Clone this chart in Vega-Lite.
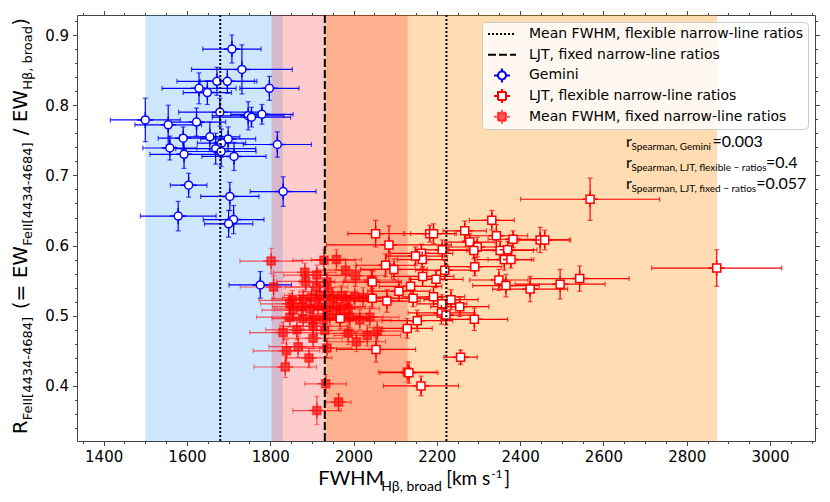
{
  "$schema": "https://vega.github.io/schema/vega-lite/v6.json",
  "description": "R_FeII versus FWHM of broad H-beta, Gemini and LJT samples",
  "width": 738,
  "height": 426,
  "autosize": {"type": "none"},
  "padding": {"left": 77, "top": 15, "right": 15, "bottom": 61},
  "background": "white",
  "datasets": {
    "bands": [
      {"region": "range 1", "lo": 1500, "hi": 1830},
      {"region": "range 2", "lo": 1933, "hi": 2873},
      {"region": "range 3", "lo": 1803, "hi": 2130}
    ],
    "lines": [
      {"series": "Mean FWHM, flexible narrow-line ratios", "fwhm": 1680},
      {"series": "Mean FWHM, flexible narrow-line ratios", "fwhm": 2223},
      {"series": "LJT, fixed narrow-line ratios", "fwhm": 1931}
    ],
    "points": [
      {"series": "Mean FWHM, fixed narrow-line ratios", "fwhm": 1802, "fwhm_err": 75, "ratio": 0.578, "ratio_err": 0.018},
      {"series": "Mean FWHM, fixed narrow-line ratios", "fwhm": 1929, "fwhm_err": 75, "ratio": 0.579, "ratio_err": 0.015},
      {"series": "Mean FWHM, fixed narrow-line ratios", "fwhm": 1959, "fwhm_err": 60, "ratio": 0.580, "ratio_err": 0.014},
      {"series": "Mean FWHM, fixed narrow-line ratios", "fwhm": 1981, "fwhm_err": 70, "ratio": 0.565, "ratio_err": 0.016},
      {"series": "Mean FWHM, fixed narrow-line ratios", "fwhm": 1883, "fwhm_err": 75, "ratio": 0.562, "ratio_err": 0.013},
      {"series": "Mean FWHM, fixed narrow-line ratios", "fwhm": 1912, "fwhm_err": 80, "ratio": 0.558, "ratio_err": 0.014},
      {"series": "Mean FWHM, fixed narrow-line ratios", "fwhm": 2005, "fwhm_err": 70, "ratio": 0.557, "ratio_err": 0.015},
      {"series": "Mean FWHM, fixed narrow-line ratios", "fwhm": 2043, "fwhm_err": 65, "ratio": 0.551, "ratio_err": 0.014},
      {"series": "Mean FWHM, fixed narrow-line ratios", "fwhm": 1808, "fwhm_err": 80, "ratio": 0.541, "ratio_err": 0.016},
      {"series": "Mean FWHM, fixed narrow-line ratios", "fwhm": 1885, "fwhm_err": 70, "ratio": 0.549, "ratio_err": 0.014},
      {"series": "Mean FWHM, fixed narrow-line ratios", "fwhm": 1911, "fwhm_err": 75, "ratio": 0.541, "ratio_err": 0.014},
      {"series": "Mean FWHM, fixed narrow-line ratios", "fwhm": 1936, "fwhm_err": 65, "ratio": 0.548, "ratio_err": 0.013},
      {"series": "Mean FWHM, fixed narrow-line ratios", "fwhm": 1847, "fwhm_err": 70, "ratio": 0.517, "ratio_err": 0.015},
      {"series": "Mean FWHM, fixed narrow-line ratios", "fwhm": 1853, "fwhm_err": 80, "ratio": 0.522, "ratio_err": 0.014},
      {"series": "Mean FWHM, fixed narrow-line ratios", "fwhm": 1879, "fwhm_err": 75, "ratio": 0.524, "ratio_err": 0.013},
      {"series": "Mean FWHM, fixed narrow-line ratios", "fwhm": 1899, "fwhm_err": 70, "ratio": 0.526, "ratio_err": 0.015},
      {"series": "Mean FWHM, fixed narrow-line ratios", "fwhm": 1919, "fwhm_err": 85, "ratio": 0.529, "ratio_err": 0.014},
      {"series": "Mean FWHM, fixed narrow-line ratios", "fwhm": 1939, "fwhm_err": 70, "ratio": 0.534, "ratio_err": 0.013},
      {"series": "Mean FWHM, fixed narrow-line ratios", "fwhm": 1951, "fwhm_err": 80, "ratio": 0.525, "ratio_err": 0.015},
      {"series": "Mean FWHM, fixed narrow-line ratios", "fwhm": 1971, "fwhm_err": 75, "ratio": 0.529, "ratio_err": 0.014},
      {"series": "Mean FWHM, fixed narrow-line ratios", "fwhm": 1983, "fwhm_err": 70, "ratio": 0.522, "ratio_err": 0.013},
      {"series": "Mean FWHM, fixed narrow-line ratios", "fwhm": 2003, "fwhm_err": 80, "ratio": 0.527, "ratio_err": 0.015},
      {"series": "Mean FWHM, fixed narrow-line ratios", "fwhm": 2023, "fwhm_err": 65, "ratio": 0.526, "ratio_err": 0.014},
      {"series": "Mean FWHM, fixed narrow-line ratios", "fwhm": 1855, "fwhm_err": 75, "ratio": 0.508, "ratio_err": 0.014},
      {"series": "Mean FWHM, fixed narrow-line ratios", "fwhm": 1875, "fwhm_err": 70, "ratio": 0.513, "ratio_err": 0.015},
      {"series": "Mean FWHM, fixed narrow-line ratios", "fwhm": 1895, "fwhm_err": 85, "ratio": 0.510, "ratio_err": 0.013},
      {"series": "Mean FWHM, fixed narrow-line ratios", "fwhm": 1915, "fwhm_err": 75, "ratio": 0.514, "ratio_err": 0.014},
      {"series": "Mean FWHM, fixed narrow-line ratios", "fwhm": 1936, "fwhm_err": 80, "ratio": 0.512, "ratio_err": 0.015},
      {"series": "Mean FWHM, fixed narrow-line ratios", "fwhm": 1959, "fwhm_err": 70, "ratio": 0.513, "ratio_err": 0.014},
      {"series": "Mean FWHM, fixed narrow-line ratios", "fwhm": 1987, "fwhm_err": 75, "ratio": 0.510, "ratio_err": 0.015},
      {"series": "Mean FWHM, fixed narrow-line ratios", "fwhm": 1847, "fwhm_err": 80, "ratio": 0.498, "ratio_err": 0.014},
      {"series": "Mean FWHM, fixed narrow-line ratios", "fwhm": 1879, "fwhm_err": 75, "ratio": 0.496, "ratio_err": 0.015},
      {"series": "Mean FWHM, fixed narrow-line ratios", "fwhm": 1903, "fwhm_err": 70, "ratio": 0.494, "ratio_err": 0.013},
      {"series": "Mean FWHM, fixed narrow-line ratios", "fwhm": 1927, "fwhm_err": 85, "ratio": 0.494, "ratio_err": 0.015},
      {"series": "Mean FWHM, fixed narrow-line ratios", "fwhm": 1943, "fwhm_err": 75, "ratio": 0.501, "ratio_err": 0.014},
      {"series": "Mean FWHM, fixed narrow-line ratios", "fwhm": 1967, "fwhm_err": 70, "ratio": 0.503, "ratio_err": 0.013},
      {"series": "Mean FWHM, fixed narrow-line ratios", "fwhm": 1991, "fwhm_err": 80, "ratio": 0.498, "ratio_err": 0.015},
      {"series": "Mean FWHM, fixed narrow-line ratios", "fwhm": 2015, "fwhm_err": 75, "ratio": 0.494, "ratio_err": 0.014},
      {"series": "Mean FWHM, fixed narrow-line ratios", "fwhm": 2039, "fwhm_err": 70, "ratio": 0.498, "ratio_err": 0.015},
      {"series": "Mean FWHM, fixed narrow-line ratios", "fwhm": 1831, "fwhm_err": 80, "ratio": 0.476, "ratio_err": 0.015},
      {"series": "Mean FWHM, fixed narrow-line ratios", "fwhm": 1864, "fwhm_err": 75, "ratio": 0.480, "ratio_err": 0.014},
      {"series": "Mean FWHM, fixed narrow-line ratios", "fwhm": 1903, "fwhm_err": 80, "ratio": 0.485, "ratio_err": 0.015},
      {"series": "Mean FWHM, fixed narrow-line ratios", "fwhm": 1931, "fwhm_err": 70, "ratio": 0.479, "ratio_err": 0.014},
      {"series": "Mean FWHM, fixed narrow-line ratios", "fwhm": 1987, "fwhm_err": 75, "ratio": 0.475, "ratio_err": 0.016},
      {"series": "Mean FWHM, fixed narrow-line ratios", "fwhm": 2007, "fwhm_err": 70, "ratio": 0.463, "ratio_err": 0.014},
      {"series": "Mean FWHM, fixed narrow-line ratios", "fwhm": 2033, "fwhm_err": 80, "ratio": 0.472, "ratio_err": 0.015},
      {"series": "Mean FWHM, fixed narrow-line ratios", "fwhm": 2057, "fwhm_err": 75, "ratio": 0.478, "ratio_err": 0.014},
      {"series": "Mean FWHM, fixed narrow-line ratios", "fwhm": 1903, "fwhm_err": 70, "ratio": 0.468, "ratio_err": 0.015},
      {"series": "Mean FWHM, fixed narrow-line ratios", "fwhm": 1839, "fwhm_err": 80, "ratio": 0.450, "ratio_err": 0.016},
      {"series": "Mean FWHM, fixed narrow-line ratios", "fwhm": 1867, "fwhm_err": 70, "ratio": 0.456, "ratio_err": 0.015},
      {"series": "Mean FWHM, fixed narrow-line ratios", "fwhm": 1936, "fwhm_err": 60, "ratio": 0.454, "ratio_err": 0.014},
      {"series": "Mean FWHM, fixed narrow-line ratios", "fwhm": 1893, "fwhm_err": 55, "ratio": 0.440, "ratio_err": 0.014},
      {"series": "Mean FWHM, fixed narrow-line ratios", "fwhm": 1836, "fwhm_err": 75, "ratio": 0.427, "ratio_err": 0.015},
      {"series": "Mean FWHM, fixed narrow-line ratios", "fwhm": 1933, "fwhm_err": 50, "ratio": 0.403, "ratio_err": 0.013},
      {"series": "Mean FWHM, fixed narrow-line ratios", "fwhm": 1964, "fwhm_err": 30, "ratio": 0.377, "ratio_err": 0.012},
      {"series": "Mean FWHM, fixed narrow-line ratios", "fwhm": 1912, "fwhm_err": 58, "ratio": 0.365, "ratio_err": 0.020},
      {"series": "Mean FWHM, fixed narrow-line ratios", "fwhm": 2129, "fwhm_err": 70, "ratio": 0.420, "ratio_err": 0.014},
      {"series": "LJT, flexible narrow-line ratios", "fwhm": 2053, "fwhm_err": 67, "ratio": 0.617, "ratio_err": 0.019},
      {"series": "LJT, flexible narrow-line ratios", "fwhm": 2085, "fwhm_err": 150, "ratio": 0.601, "ratio_err": 0.027},
      {"series": "LJT, flexible narrow-line ratios", "fwhm": 2183, "fwhm_err": 60, "ratio": 0.617, "ratio_err": 0.012},
      {"series": "LJT, flexible narrow-line ratios", "fwhm": 2192, "fwhm_err": 55, "ratio": 0.617, "ratio_err": 0.014},
      {"series": "LJT, flexible narrow-line ratios", "fwhm": 2267, "fwhm_err": 52, "ratio": 0.621, "ratio_err": 0.014},
      {"series": "LJT, flexible narrow-line ratios", "fwhm": 2332, "fwhm_err": 54, "ratio": 0.636, "ratio_err": 0.014},
      {"series": "LJT, flexible narrow-line ratios", "fwhm": 2279, "fwhm_err": 60, "ratio": 0.605, "ratio_err": 0.012},
      {"series": "LJT, flexible narrow-line ratios", "fwhm": 2297, "fwhm_err": 70, "ratio": 0.598, "ratio_err": 0.014},
      {"series": "LJT, flexible narrow-line ratios", "fwhm": 2343, "fwhm_err": 75, "ratio": 0.614, "ratio_err": 0.016},
      {"series": "LJT, flexible narrow-line ratios", "fwhm": 2383, "fwhm_err": 60, "ratio": 0.609, "ratio_err": 0.012},
      {"series": "LJT, flexible narrow-line ratios", "fwhm": 2448, "fwhm_err": 70, "ratio": 0.608, "ratio_err": 0.018},
      {"series": "LJT, flexible narrow-line ratios", "fwhm": 2459, "fwhm_err": 62, "ratio": 0.608, "ratio_err": 0.014},
      {"series": "LJT, flexible narrow-line ratios", "fwhm": 2352, "fwhm_err": 80, "ratio": 0.593, "ratio_err": 0.013},
      {"series": "LJT, flexible narrow-line ratios", "fwhm": 2370, "fwhm_err": 70, "ratio": 0.594, "ratio_err": 0.012},
      {"series": "LJT, flexible narrow-line ratios", "fwhm": 2213, "fwhm_err": 65, "ratio": 0.594, "ratio_err": 0.014},
      {"series": "LJT, flexible narrow-line ratios", "fwhm": 2163, "fwhm_err": 75, "ratio": 0.589, "ratio_err": 0.013},
      {"series": "LJT, flexible narrow-line ratios", "fwhm": 2165, "fwhm_err": 60, "ratio": 0.580, "ratio_err": 0.012},
      {"series": "LJT, flexible narrow-line ratios", "fwhm": 2149, "fwhm_err": 70, "ratio": 0.585, "ratio_err": 0.013},
      {"series": "LJT, flexible narrow-line ratios", "fwhm": 2289, "fwhm_err": 60, "ratio": 0.593, "ratio_err": 0.012},
      {"series": "LJT, flexible narrow-line ratios", "fwhm": 2362, "fwhm_err": 65, "ratio": 0.580, "ratio_err": 0.015},
      {"series": "LJT, flexible narrow-line ratios", "fwhm": 2378, "fwhm_err": 55, "ratio": 0.580, "ratio_err": 0.012},
      {"series": "LJT, flexible narrow-line ratios", "fwhm": 2077, "fwhm_err": 70, "ratio": 0.572, "ratio_err": 0.016},
      {"series": "LJT, flexible narrow-line ratios", "fwhm": 2097, "fwhm_err": 80, "ratio": 0.566, "ratio_err": 0.015},
      {"series": "LJT, flexible narrow-line ratios", "fwhm": 2219, "fwhm_err": 70, "ratio": 0.565, "ratio_err": 0.014},
      {"series": "LJT, flexible narrow-line ratios", "fwhm": 2291, "fwhm_err": 65, "ratio": 0.570, "ratio_err": 0.013},
      {"series": "LJT, flexible narrow-line ratios", "fwhm": 2166, "fwhm_err": 75, "ratio": 0.556, "ratio_err": 0.014},
      {"series": "LJT, flexible narrow-line ratios", "fwhm": 2198, "fwhm_err": 65, "ratio": 0.552, "ratio_err": 0.012},
      {"series": "LJT, flexible narrow-line ratios", "fwhm": 2349, "fwhm_err": 70, "ratio": 0.551, "ratio_err": 0.015},
      {"series": "LJT, flexible narrow-line ratios", "fwhm": 2543, "fwhm_err": 119, "ratio": 0.553, "ratio_err": 0.018},
      {"series": "LJT, flexible narrow-line ratios", "fwhm": 2496, "fwhm_err": 108, "ratio": 0.545, "ratio_err": 0.021},
      {"series": "LJT, flexible narrow-line ratios", "fwhm": 2424, "fwhm_err": 90, "ratio": 0.538, "ratio_err": 0.018},
      {"series": "LJT, flexible narrow-line ratios", "fwhm": 2366, "fwhm_err": 80, "ratio": 0.543, "ratio_err": 0.016},
      {"series": "LJT, flexible narrow-line ratios", "fwhm": 2045, "fwhm_err": 70, "ratio": 0.548, "ratio_err": 0.016},
      {"series": "LJT, flexible narrow-line ratios", "fwhm": 2137, "fwhm_err": 75, "ratio": 0.542, "ratio_err": 0.014},
      {"series": "LJT, flexible narrow-line ratios", "fwhm": 2109, "fwhm_err": 75, "ratio": 0.535, "ratio_err": 0.014},
      {"series": "LJT, flexible narrow-line ratios", "fwhm": 2045, "fwhm_err": 65, "ratio": 0.525, "ratio_err": 0.014},
      {"series": "LJT, flexible narrow-line ratios", "fwhm": 2080, "fwhm_err": 80, "ratio": 0.521, "ratio_err": 0.016},
      {"series": "LJT, flexible narrow-line ratios", "fwhm": 2143, "fwhm_err": 60, "ratio": 0.525, "ratio_err": 0.012},
      {"series": "LJT, flexible narrow-line ratios", "fwhm": 2192, "fwhm_err": 75, "ratio": 0.527, "ratio_err": 0.014},
      {"series": "LJT, flexible narrow-line ratios", "fwhm": 2212, "fwhm_err": 60, "ratio": 0.517, "ratio_err": 0.013},
      {"series": "LJT, flexible narrow-line ratios", "fwhm": 2234, "fwhm_err": 65, "ratio": 0.523, "ratio_err": 0.014},
      {"series": "LJT, flexible narrow-line ratios", "fwhm": 2255, "fwhm_err": 70, "ratio": 0.513, "ratio_err": 0.014},
      {"series": "LJT, flexible narrow-line ratios", "fwhm": 2211, "fwhm_err": 80, "ratio": 0.504, "ratio_err": 0.016},
      {"series": "LJT, flexible narrow-line ratios", "fwhm": 2222, "fwhm_err": 70, "ratio": 0.501, "ratio_err": 0.014},
      {"series": "LJT, flexible narrow-line ratios", "fwhm": 2290, "fwhm_err": 80, "ratio": 0.495, "ratio_err": 0.016},
      {"series": "LJT, flexible narrow-line ratios", "fwhm": 2153, "fwhm_err": 85, "ratio": 0.493, "ratio_err": 0.015},
      {"series": "LJT, flexible narrow-line ratios", "fwhm": 2129, "fwhm_err": 60, "ratio": 0.482, "ratio_err": 0.014},
      {"series": "LJT, flexible narrow-line ratios", "fwhm": 1968, "fwhm_err": 70, "ratio": 0.496, "ratio_err": 0.015},
      {"series": "LJT, flexible narrow-line ratios", "fwhm": 2054, "fwhm_err": 95, "ratio": 0.452, "ratio_err": 0.018},
      {"series": "LJT, flexible narrow-line ratios", "fwhm": 2257, "fwhm_err": 40, "ratio": 0.441, "ratio_err": 0.010},
      {"series": "LJT, flexible narrow-line ratios", "fwhm": 2133, "fwhm_err": 70, "ratio": 0.419, "ratio_err": 0.015},
      {"series": "LJT, flexible narrow-line ratios", "fwhm": 2162, "fwhm_err": 90, "ratio": 0.400, "ratio_err": 0.014},
      {"series": "LJT, flexible narrow-line ratios", "fwhm": 2568, "fwhm_err": 167, "ratio": 0.666, "ratio_err": 0.030},
      {"series": "LJT, flexible narrow-line ratios", "fwhm": 2872, "fwhm_err": 156, "ratio": 0.568, "ratio_err": 0.026},
      {"series": "Gemini", "fwhm": 1708, "fwhm_err": 70, "ratio": 0.880, "ratio_err": 0.020},
      {"series": "Gemini", "fwhm": 1732, "fwhm_err": 121, "ratio": 0.851, "ratio_err": 0.035},
      {"series": "Gemini", "fwhm": 1672, "fwhm_err": 96, "ratio": 0.834, "ratio_err": 0.020},
      {"series": "Gemini", "fwhm": 1697, "fwhm_err": 65, "ratio": 0.834, "ratio_err": 0.017},
      {"series": "Gemini", "fwhm": 1629, "fwhm_err": 89, "ratio": 0.824, "ratio_err": 0.022},
      {"series": "Gemini", "fwhm": 1649, "fwhm_err": 58, "ratio": 0.818, "ratio_err": 0.017},
      {"series": "Gemini", "fwhm": 1798, "fwhm_err": 71, "ratio": 0.824, "ratio_err": 0.017},
      {"series": "Gemini", "fwhm": 1500, "fwhm_err": 84, "ratio": 0.779, "ratio_err": 0.031},
      {"series": "Gemini", "fwhm": 1555, "fwhm_err": 80, "ratio": 0.772, "ratio_err": 0.028},
      {"series": "Gemini", "fwhm": 1623, "fwhm_err": 70, "ratio": 0.776, "ratio_err": 0.020},
      {"series": "Gemini", "fwhm": 1679, "fwhm_err": 99, "ratio": 0.790, "ratio_err": 0.020},
      {"series": "Gemini", "fwhm": 1747, "fwhm_err": 86, "ratio": 0.785, "ratio_err": 0.020},
      {"series": "Gemini", "fwhm": 1755, "fwhm_err": 94, "ratio": 0.783, "ratio_err": 0.014},
      {"series": "Gemini", "fwhm": 1780, "fwhm_err": 75, "ratio": 0.787, "ratio_err": 0.014},
      {"series": "Gemini", "fwhm": 1591, "fwhm_err": 60, "ratio": 0.753, "ratio_err": 0.016},
      {"series": "Gemini", "fwhm": 1655, "fwhm_err": 72, "ratio": 0.755, "ratio_err": 0.021},
      {"series": "Gemini", "fwhm": 1699, "fwhm_err": 66, "ratio": 0.752, "ratio_err": 0.017},
      {"series": "Gemini", "fwhm": 1683, "fwhm_err": 58, "ratio": 0.746, "ratio_err": 0.020},
      {"series": "Gemini", "fwhm": 1559, "fwhm_err": 65, "ratio": 0.739, "ratio_err": 0.017},
      {"series": "Gemini", "fwhm": 1669, "fwhm_err": 96, "ratio": 0.738, "ratio_err": 0.022},
      {"series": "Gemini", "fwhm": 1682, "fwhm_err": 84, "ratio": 0.734, "ratio_err": 0.021},
      {"series": "Gemini", "fwhm": 1593, "fwhm_err": 82, "ratio": 0.730, "ratio_err": 0.020},
      {"series": "Gemini", "fwhm": 1713, "fwhm_err": 77, "ratio": 0.727, "ratio_err": 0.020},
      {"series": "Gemini", "fwhm": 1817, "fwhm_err": 82, "ratio": 0.744, "ratio_err": 0.018},
      {"series": "Gemini", "fwhm": 1604, "fwhm_err": 44, "ratio": 0.686, "ratio_err": 0.017},
      {"series": "Gemini", "fwhm": 1703, "fwhm_err": 70, "ratio": 0.670, "ratio_err": 0.020},
      {"series": "Gemini", "fwhm": 1831, "fwhm_err": 79, "ratio": 0.677, "ratio_err": 0.021},
      {"series": "Gemini", "fwhm": 1579, "fwhm_err": 91, "ratio": 0.642, "ratio_err": 0.021},
      {"series": "Gemini", "fwhm": 1712, "fwhm_err": 73, "ratio": 0.637, "ratio_err": 0.020},
      {"series": "Gemini", "fwhm": 1700, "fwhm_err": 58, "ratio": 0.631, "ratio_err": 0.019},
      {"series": "Gemini", "fwhm": 1776, "fwhm_err": 75, "ratio": 0.544, "ratio_err": 0.019}
    ]
  },
  "layer": [
    {
      "data": {"name": "bands"},
      "mark": {"type": "rect"},
      "encoding": {
        "x": {
          "field": "lo",
          "type": "quantitative",
          "scale": {"domain": [1336, 3108], "nice": false, "zero": false},
          "axis": {
            "orient": "top",
            "title": null,
            "labels": false,
            "domain": false,
            "grid": false,
            "tickColor": "#444",
            "values": [1350, 1400, 1450, 1500, 1550, 1600, 1650, 1700, 1750, 1800, 1850, 1900, 1950, 2000, 2050, 2100, 2150, 2200, 2250, 2300, 2350, 2400, 2450, 2500, 2550, 2600, 2650, 2700, 2750, 2800, 2850, 2900, 2950, 3000, 3050, 3100],
            "tickSize": {"condition": {"test": "datum.value % 200 === 0", "value": 4.5}, "value": 2.5}
          }
        },
        "x2": {"field": "hi"},
        "color": {
          "field": "region",
          "type": "nominal",
          "scale": {
            "domain": ["Gemini", "LJT, flexible narrow-line ratios", "Mean FWHM, fixed narrow-line ratios", "range 1", "range 2", "range 3"],
            "range": ["#0000ff", "#ff0000", "rgba(255,0,0,0.65)", "rgba(30,144,255,0.22)", "rgba(255,140,0,0.3)", "rgba(255,0,0,0.2)"]
          },
          "legend": null
        }
      }
    },
    {
      "data": {"name": "points"},
      "mark": {"type": "errorbar", "ticks": true, "size": 5, "thickness": 1.2},
      "encoding": {
        "x": {"field": "fwhm", "type": "quantitative", "axis": null},
        "xError": {"field": "fwhm_err"},
        "y": {
          "field": "ratio",
          "type": "quantitative",
          "scale": {"domain": [0.3216, 0.9285], "nice": false, "zero": false},
          "axis": {
            "orient": "right",
            "title": null,
            "labels": false,
            "domain": false,
            "grid": false,
            "tickColor": "#444",
            "values": [0.34, 0.36, 0.38, 0.4, 0.42, 0.44, 0.46, 0.48, 0.5, 0.52, 0.54, 0.56, 0.58, 0.6, 0.62, 0.64, 0.66, 0.68, 0.7, 0.72, 0.74, 0.76, 0.78, 0.8, 0.82, 0.84, 0.86, 0.88, 0.9, 0.92],
            "tickSize": {"condition": {"test": "abs(datum.value * 10 - round(datum.value * 10)) < 0.001", "value": 4.5}, "value": 2.5}
          }
        },
        "color": {"field": "series", "type": "nominal", "legend": null}
      }
    },
    {
      "data": {"name": "points"},
      "mark": {"type": "errorbar", "ticks": true, "size": 5, "thickness": 1.2},
      "encoding": {
        "y": {"field": "ratio", "type": "quantitative", "axis": null},
        "yError": {"field": "ratio_err"},
        "x": {"field": "fwhm", "type": "quantitative", "axis": null},
        "color": {"field": "series", "type": "nominal", "legend": null}
      }
    },
    {
      "data": {"name": "points"},
      "mark": {"type": "point", "filled": true, "opacity": 1, "strokeWidth": 1.5},
      "encoding": {
        "x": {
          "field": "fwhm",
          "type": "quantitative",
          "axis": {
            "orient": "bottom",
            "title": null,
            "domain": false,
            "grid": false,
            "tickColor": "#444",
            "labelFont": "DejaVu Sans",
            "labelFontSize": 15,
            "labelColor": "black",
            "labelPadding": 4,
            "labelOverlap": false,
            "labelFlush": false,
            "values": [1350, 1400, 1450, 1500, 1550, 1600, 1650, 1700, 1750, 1800, 1850, 1900, 1950, 2000, 2050, 2100, 2150, 2200, 2250, 2300, 2350, 2400, 2450, 2500, 2550, 2600, 2650, 2700, 2750, 2800, 2850, 2900, 2950, 3000, 3050, 3100],
            "labelExpr": "datum.value % 200 === 0 ? format(datum.value, 'd') : ''",
            "tickSize": {"condition": {"test": "datum.value % 200 === 0", "value": 4.5}, "value": 2.5}
          }
        },
        "y": {
          "field": "ratio",
          "type": "quantitative",
          "axis": {
            "orient": "left",
            "title": null,
            "domain": false,
            "grid": false,
            "tickColor": "#444",
            "labelFont": "DejaVu Sans",
            "labelFontSize": 15,
            "labelColor": "black",
            "labelPadding": 4,
            "labelOverlap": false,
            "labelFlush": false,
            "values": [0.34, 0.36, 0.38, 0.4, 0.42, 0.44, 0.46, 0.48, 0.5, 0.52, 0.54, 0.56, 0.58, 0.6, 0.62, 0.64, 0.66, 0.68, 0.7, 0.72, 0.74, 0.76, 0.78, 0.8, 0.82, 0.84, 0.86, 0.88, 0.9, 0.92],
            "labelExpr": "abs(datum.value * 10 - round(datum.value * 10)) < 0.001 ? format(datum.value, '.1f') : ''",
            "tickSize": {"condition": {"test": "abs(datum.value * 10 - round(datum.value * 10)) < 0.001", "value": 4.5}, "value": 2.5}
          }
        },
        "stroke": {
          "field": "series",
          "type": "nominal",
          "scale": {
            "domain": ["Mean FWHM, flexible narrow-line ratios", "LJT, fixed narrow-line ratios", "Gemini", "LJT, flexible narrow-line ratios", "Mean FWHM, fixed narrow-line ratios"],
            "range": ["black", "black", "#0000ff", "#ff0000", "rgba(255,0,0,0.65)"]
          },
          "legend": {"title": null}
        },
        "fill": {
          "field": "series",
          "type": "nominal",
          "scale": {
            "domain": ["Mean FWHM, flexible narrow-line ratios", "LJT, fixed narrow-line ratios", "Gemini", "LJT, flexible narrow-line ratios", "Mean FWHM, fixed narrow-line ratios"],
            "range": ["transparent", "transparent", "white", "white", "rgba(255,0,0,0.65)"]
          },
          "legend": {"title": null}
        },
        "shape": {
          "field": "series",
          "type": "nominal",
          "scale": {
            "domain": ["Mean FWHM, flexible narrow-line ratios", "LJT, fixed narrow-line ratios", "Gemini", "LJT, flexible narrow-line ratios", "Mean FWHM, fixed narrow-line ratios"],
            "range": [
              "stroke",
              "stroke",
              "M-0.5,0A0.5,0.5 0 1,1 0.5,0A0.5,0.5 0 1,1 -0.5,0ZM0.5,0L1,0M-0.5,0L-1,0M0,0.5L0,1M0,-0.5L0,-1",
              "M-0.5,-0.5H0.5V0.5H-0.5ZM0.5,0L1,0M-0.5,0L-1,0M0,0.5L0,1M0,-0.5L0,-1",
              "M-0.5,-0.5H0.5V0.5H-0.5ZM0.5,0L1,0M-0.5,0L-1,0M0,0.5L0,1M0,-0.5L0,-1"
            ]
          },
          "legend": {"title": null}
        },
        "size": {
          "field": "series",
          "type": "nominal",
          "scale": {
            "type": "ordinal",
            "domain": ["Mean FWHM, flexible narrow-line ratios", "LJT, fixed narrow-line ratios", "Gemini", "LJT, flexible narrow-line ratios", "Mean FWHM, fixed narrow-line ratios"],
            "range": [784, 784, 256, 256, 256]
          },
          "legend": {"title": null}
        }
      }
    },
    {
      "data": {"name": "lines"},
      "mark": {"type": "rule", "strokeWidth": 2},
      "encoding": {
        "x": {"field": "fwhm", "type": "quantitative", "axis": null},
        "stroke": {"field": "series", "type": "nominal", "legend": {"title": null}},
        "strokeDash": {
          "field": "series",
          "type": "nominal",
          "scale": {
            "domain": ["Mean FWHM, flexible narrow-line ratios", "LJT, fixed narrow-line ratios", "Gemini", "LJT, flexible narrow-line ratios", "Mean FWHM, fixed narrow-line ratios"],
            "range": [[2, 2], [8, 3], [1, 0], [1, 0], [1, 0]]
          },
          "legend": {"title": null}
        }
      }
    },
    {
      "data": {"values": [{}]},
      "mark": {"type": "text", "text": "R", "font": "DejaVu Sans", "fontSize": 20, "angle": 270, "align": "left", "baseline": "alphabetic", "color": "black", "dx": 0},
      "encoding": {"x": {"datum": 1217, "type": "quantitative", "axis": null}, "y": {"datum": 0.3311, "type": "quantitative", "axis": null}}
    },
    {
      "data": {"values": [{}]},
      "mark": {"type": "text", "text": "FeII[4434-4684]", "font": "DejaVu Sans", "fontSize": 13, "angle": 270, "align": "left", "baseline": "alphabetic", "color": "black", "dx": 14, "dy": 5},
      "encoding": {"x": {"datum": 1217, "type": "quantitative", "axis": null}, "y": {"datum": 0.3311, "type": "quantitative", "axis": null}}
    },
    {
      "data": {"values": [{}]},
      "mark": {"type": "text", "text": "(=", "font": "DejaVu Sans", "fontSize": 20, "angle": 270, "align": "left", "baseline": "alphabetic", "color": "black", "dx": 125},
      "encoding": {"x": {"datum": 1217, "type": "quantitative", "axis": null}, "y": {"datum": 0.3311, "type": "quantitative", "axis": null}}
    },
    {
      "data": {"values": [{}]},
      "mark": {"type": "text", "text": "EW", "font": "DejaVu Sans", "fontSize": 20, "angle": 270, "align": "left", "baseline": "alphabetic", "color": "black", "dx": 156},
      "encoding": {"x": {"datum": 1217, "type": "quantitative", "axis": null}, "y": {"datum": 0.3311, "type": "quantitative", "axis": null}}
    },
    {
      "data": {"values": [{}]},
      "mark": {"type": "text", "text": "FeII[4434-4684]", "font": "DejaVu Sans", "fontSize": 13, "angle": 270, "align": "left", "baseline": "alphabetic", "color": "black", "dx": 188.5, "dy": 5},
      "encoding": {"x": {"datum": 1217, "type": "quantitative", "axis": null}, "y": {"datum": 0.3311, "type": "quantitative", "axis": null}}
    },
    {
      "data": {"values": [{}]},
      "mark": {"type": "text", "text": "/", "font": "DejaVu Sans", "fontSize": 20, "angle": 270, "align": "left", "baseline": "alphabetic", "color": "black", "dx": 299},
      "encoding": {"x": {"datum": 1217, "type": "quantitative", "axis": null}, "y": {"datum": 0.3311, "type": "quantitative", "axis": null}}
    },
    {
      "data": {"values": [{}]},
      "mark": {"type": "text", "text": "EW", "font": "DejaVu Sans", "fontSize": 20, "angle": 270, "align": "left", "baseline": "alphabetic", "color": "black", "dx": 312},
      "encoding": {"x": {"datum": 1217, "type": "quantitative", "axis": null}, "y": {"datum": 0.3311, "type": "quantitative", "axis": null}}
    },
    {
      "data": {"values": [{}]},
      "mark": {"type": "text", "text": "Hβ, broad", "font": "DejaVu Sans", "fontSize": 13, "angle": 270, "align": "left", "baseline": "alphabetic", "color": "black", "dx": 344.5, "dy": 5},
      "encoding": {"x": {"datum": 1217, "type": "quantitative", "axis": null}, "y": {"datum": 0.3311, "type": "quantitative", "axis": null}}
    },
    {
      "data": {"values": [{}]},
      "mark": {"type": "text", "text": ")", "font": "DejaVu Sans", "fontSize": 20, "angle": 270, "align": "left", "baseline": "alphabetic", "color": "black", "dx": 408.5},
      "encoding": {"x": {"datum": 1217, "type": "quantitative", "axis": null}, "y": {"datum": 0.3311, "type": "quantitative", "axis": null}}
    },
    {
      "data": {"values": [{}]},
      "mark": {"type": "text", "text": "FWHM", "font": "Lato", "fontSize": 20, "align": "left", "baseline": "alphabetic", "color": "black", "dx": 0},
      "encoding": {"x": {"datum": 1915, "type": "quantitative", "axis": null}, "y": {"datum": 0.2589, "type": "quantitative", "axis": null}}
    },
    {
      "data": {"values": [{}]},
      "mark": {"type": "text", "text": "Hβ, broad", "font": "Lato", "fontSize": 14, "align": "left", "baseline": "alphabetic", "color": "black", "dx": 63, "dy": 6},
      "encoding": {"x": {"datum": 1915, "type": "quantitative", "axis": null}, "y": {"datum": 0.2589, "type": "quantitative", "axis": null}}
    },
    {
      "data": {"values": [{}]},
      "mark": {"type": "text", "text": "[km s", "font": "Lato", "fontSize": 19, "align": "left", "baseline": "alphabetic", "color": "black", "dx": 128},
      "encoding": {"x": {"datum": 1915, "type": "quantitative", "axis": null}, "y": {"datum": 0.2589, "type": "quantitative", "axis": null}}
    },
    {
      "data": {"values": [{}]},
      "mark": {"type": "text", "text": "-1", "font": "Lato", "fontSize": 12, "align": "left", "baseline": "alphabetic", "color": "black", "dx": 173, "dy": -7},
      "encoding": {"x": {"datum": 1915, "type": "quantitative", "axis": null}, "y": {"datum": 0.2589, "type": "quantitative", "axis": null}}
    },
    {
      "data": {"values": [{}]},
      "mark": {"type": "text", "text": "]", "font": "Lato", "fontSize": 19, "align": "left", "baseline": "alphabetic", "color": "black", "dx": 186},
      "encoding": {"x": {"datum": 1915, "type": "quantitative", "axis": null}, "y": {"datum": 0.2589, "type": "quantitative", "axis": null}}
    },
    {
      "data": {"values": [{}]},
      "mark": {"type": "text", "text": "r", "font": "Lato", "fontSize": 16, "align": "left", "baseline": "alphabetic", "color": "black"},
      "encoding": {"x": {"datum": 2654, "type": "quantitative", "axis": null}, "y": {"datum": 0.74, "type": "quantitative", "axis": null}}
    },
    {
      "data": {"values": [{}]},
      "mark": {"type": "text", "text": "Spearman, Gemini", "font": "Lato", "fontSize": 10, "align": "left", "baseline": "alphabetic", "color": "black", "dx": 5.5, "dy": 3},
      "encoding": {"x": {"datum": 2654, "type": "quantitative", "axis": null}, "y": {"datum": 0.74, "type": "quantitative", "axis": null}}
    },
    {
      "data": {"values": [{}]},
      "mark": {"type": "text", "text": "=0.003", "font": "Lato", "fontSize": 16, "align": "left", "baseline": "alphabetic", "color": "black", "dx": 86.6},
      "encoding": {"x": {"datum": 2654, "type": "quantitative", "axis": null}, "y": {"datum": 0.74, "type": "quantitative", "axis": null}}
    },
    {
      "data": {"values": [{}]},
      "mark": {"type": "text", "text": "r", "font": "Lato", "fontSize": 16, "align": "left", "baseline": "alphabetic", "color": "black"},
      "encoding": {"x": {"datum": 2654, "type": "quantitative", "axis": null}, "y": {"datum": 0.7101, "type": "quantitative", "axis": null}}
    },
    {
      "data": {"values": [{}]},
      "mark": {"type": "text", "text": "Spearman, LJT, flexible − ratios", "font": "Lato", "fontSize": 10, "align": "left", "baseline": "alphabetic", "color": "black", "dx": 5.5, "dy": 3},
      "encoding": {"x": {"datum": 2654, "type": "quantitative", "axis": null}, "y": {"datum": 0.7101, "type": "quantitative", "axis": null}}
    },
    {
      "data": {"values": [{}]},
      "mark": {"type": "text", "text": "=0.4", "font": "Lato", "fontSize": 16, "align": "left", "baseline": "alphabetic", "color": "black", "dx": 140},
      "encoding": {"x": {"datum": 2654, "type": "quantitative", "axis": null}, "y": {"datum": 0.7101, "type": "quantitative", "axis": null}}
    },
    {
      "data": {"values": [{}]},
      "mark": {"type": "text", "text": "r", "font": "Lato", "fontSize": 16, "align": "left", "baseline": "alphabetic", "color": "black"},
      "encoding": {"x": {"datum": 2654, "type": "quantitative", "axis": null}, "y": {"datum": 0.6802, "type": "quantitative", "axis": null}}
    },
    {
      "data": {"values": [{}]},
      "mark": {"type": "text", "text": "Spearman, LJT, fixed − ratios", "font": "Lato", "fontSize": 10, "align": "left", "baseline": "alphabetic", "color": "black", "dx": 5.5, "dy": 3},
      "encoding": {"x": {"datum": 2654, "type": "quantitative", "axis": null}, "y": {"datum": 0.6802, "type": "quantitative", "axis": null}}
    },
    {
      "data": {"values": [{}]},
      "mark": {"type": "text", "text": "=0.057", "font": "Lato", "fontSize": 16, "align": "left", "baseline": "alphabetic", "color": "black", "dx": 130.3},
      "encoding": {"x": {"datum": 2654, "type": "quantitative", "axis": null}, "y": {"datum": 0.6802, "type": "quantitative", "axis": null}}
    }
  ],
  "config": {
    "font": "DejaVu Sans",
    "view": {"stroke": "#444", "strokeWidth": 1},
    "legend": {
      "orient": "top-right",
      "offset": 7,
      "labelFont": "DejaVu Sans",
      "labelFontSize": 14,
      "labelColor": "black",
      "labelLimit": 400,
      "labelOffset": 12,
      "padding": 5,
      "rowPadding": 6.7,
      "clipHeight": 14,
      "symbolStrokeWidth": 2,
      "symbolOpacity": 1,
      "fillColor": "rgba(255,255,255,0.8)",
      "strokeColor": "#cccccc",
      "cornerRadius": 4
    }
  }
}
